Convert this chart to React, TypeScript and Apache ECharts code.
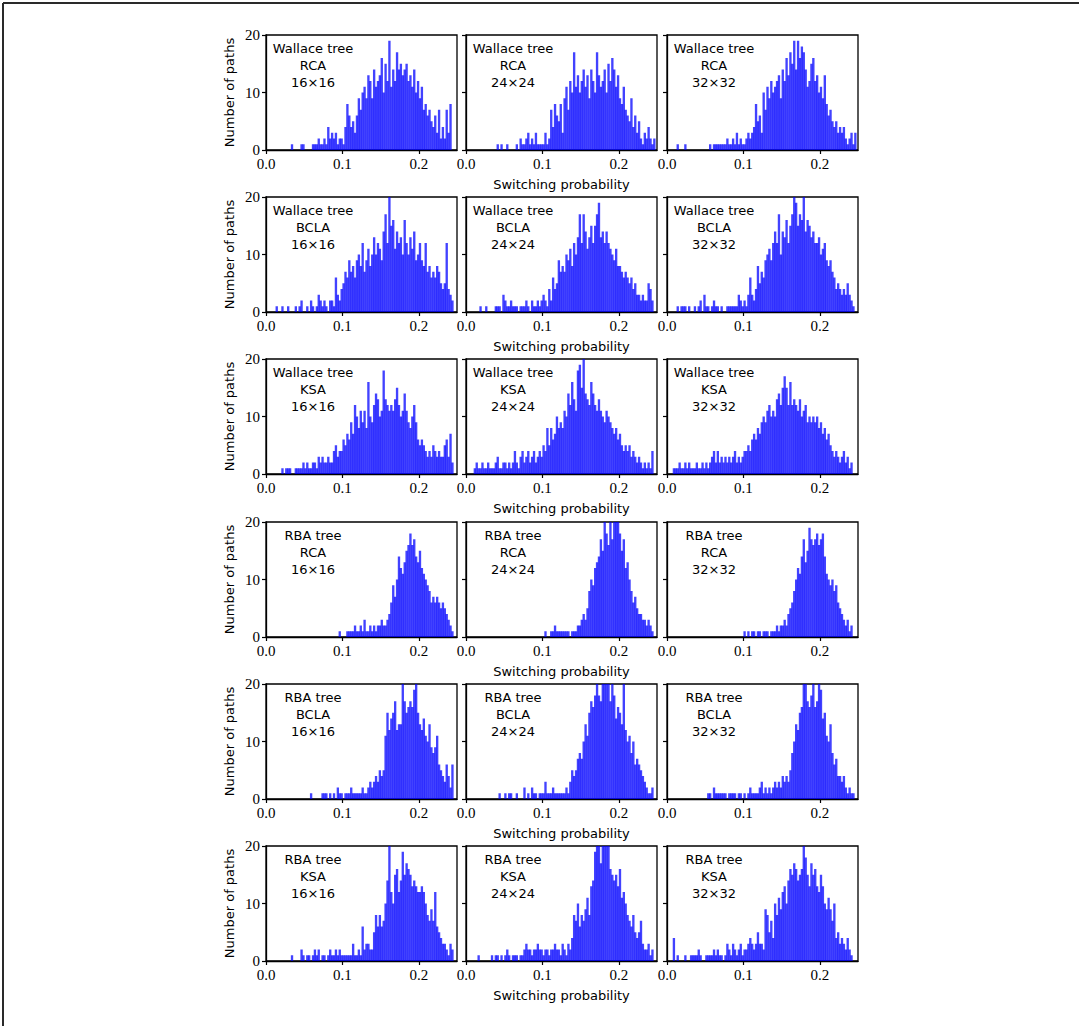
import React, { useEffect, useRef } from "react";
import * as echarts from "echarts";

// ---------- DATA (counts per bin, bin width 0.0025, bins start at 0) ----------
const BIN_WIDTH = 0.0025;
const X_TICKS = [0, 0.1, 0.2];
const Y_TICKS = [0, 10, 20];
const X_MAX = 0.25;
const Y_MAX = 20;

const TREES = ["Wallace tree", "Wallace tree", "Wallace tree", "RBA tree", "RBA tree", "RBA tree"];
const ADDERS = ["RCA", "BCLA", "KSA", "RCA", "BCLA", "KSA"];
const SIZES = ["16×16", "24×24", "32×32"];
const X_TITLE = "Switching probability";
const Y_TITLE = "Number of paths";

const W_RCA_16 = [
  0,0,0,0,0,0,0,0,0,0,
  0,0,0,1,0,0,0,0,1,1,
  0,0,0,0,1,1,1,2,1,1,
  2,1,4,2,3,2,3,1,2,2,
  1,4,8,6,4,5,3,6,9,7,
  10,11,9,13,12,9,14,11,12,13,
  16,10,15,12,19,11,14,12,17,14,
  15,13,14,15,12,13,11,14,10,12,
  9,11,7,8,6,7,5,4,6,3,
  7,2,4,2,7,3,8,0,0,0];
const W_RCA_24 = [
  0,0,0,0,0,0,0,0,0,0,
  0,0,0,0,0,0,1,0,1,0,
  0,1,0,0,0,0,1,0,2,1,
  1,2,3,1,2,1,3,1,1,1,
  1,3,1,2,7,4,8,6,5,8,
  3,9,11,7,12,10,17,11,13,10,
  12,14,11,13,9,14,12,10,17,13,
  11,12,14,10,15,12,16,14,11,13,
  9,8,11,7,6,5,9,4,6,3,
  5,2,1,3,2,4,2,1,2,0];
const W_RCA_32 = [
  0,0,0,0,0,1,0,0,0,1,
  0,0,0,0,0,0,0,0,0,0,
  0,0,1,0,1,1,1,1,1,1,
  1,2,1,1,2,1,3,1,2,1,
  1,2,3,2,3,4,8,5,6,3,
  10,7,11,9,12,10,11,12,13,9,
  14,12,16,13,17,15,19,14,19,16,
  18,17,14,11,12,15,16,12,13,10,
  11,9,13,8,6,7,5,4,5,3,
  4,3,4,2,1,2,3,1,3,0];
const W_BCLA_16 = [
  0,0,0,0,0,1,0,0,1,0,
  0,1,0,0,0,1,0,1,2,0,
  0,1,0,2,1,0,1,3,2,1,
  2,1,0,2,2,1,6,3,2,4,
  5,7,6,9,7,8,6,9,10,8,
  12,7,9,11,8,10,13,10,12,11,
  9,14,17,12,20,15,16,11,14,12,
  13,10,16,12,10,13,11,14,9,10,
  12,9,8,12,7,8,6,7,6,8,
  7,5,4,5,12,4,3,2,0,0];
const W_BCLA_24 = [
  0,0,0,0,0,0,0,1,0,0,
  1,0,0,0,0,1,1,1,0,3,
  2,1,1,2,1,1,1,0,1,1,
  1,2,1,0,2,1,1,2,1,2,
  3,2,1,4,2,6,4,5,9,7,
  8,7,10,9,11,8,12,10,13,17,
  12,17,14,11,13,15,12,15,17,19,
  13,14,12,14,12,11,10,9,11,8,
  8,7,6,7,6,5,6,4,5,3,
  3,2,3,2,2,5,4,2,0,0];
const W_BCLA_32 = [
  0,0,0,0,0,1,0,1,1,1,
  0,1,0,0,1,0,1,2,0,3,
  1,1,0,1,2,1,1,0,1,0,
  0,1,1,1,1,1,1,3,2,1,
  2,1,3,6,3,2,4,8,5,7,
  6,9,10,11,9,12,14,12,17,10,
  14,13,16,12,15,17,20,19,15,17,
  16,20,14,16,15,13,14,12,12,13,
  10,11,12,9,8,9,7,6,4,5,
  4,3,4,3,5,3,2,1,0,0];
const W_KSA_16 = [
  0,0,0,0,0,0,0,0,1,0,
  1,1,1,0,0,1,1,1,1,2,
  1,2,1,1,2,2,1,3,2,3,
  2,2,3,2,2,4,5,3,4,4,
  6,5,7,6,9,7,12,10,8,11,
  9,11,8,16,10,9,12,14,13,10,
  11,18,13,12,11,12,11,13,15,12,
  10,11,14,11,9,8,10,12,9,6,
  5,6,5,4,3,4,3,5,4,3,
  4,3,3,5,6,3,7,2,0,0];
const W_KSA_24 = [
  0,0,0,0,1,2,1,1,2,1,
  1,2,1,1,1,2,3,1,1,2,
  2,1,2,1,2,4,2,1,3,4,
  2,3,4,2,3,4,2,3,4,3,
  5,4,8,5,8,6,7,10,8,9,
  8,11,10,14,12,16,13,11,18,19,
  15,21,14,13,12,16,14,12,11,13,
  11,10,9,11,10,9,8,7,8,6,
  7,5,4,5,4,5,3,4,3,2,
  3,2,1,2,1,2,1,4,0,0];
const W_KSA_32 = [
  0,0,0,1,1,1,2,1,1,2,
  1,2,1,1,1,2,1,1,2,1,
  2,1,2,3,4,2,4,2,3,2,
  3,2,3,2,3,4,2,3,2,3,
  4,4,5,4,6,7,6,8,7,9,
  10,9,11,12,10,11,10,13,14,12,
  15,17,15,12,16,12,13,12,11,13,
  10,11,12,9,10,9,10,9,10,8,
  9,7,8,6,7,5,4,3,4,3,
  2,3,4,2,3,1,2,0,0,0];
const R_RCA_16 = [
  0,0,0,0,0,0,0,0,0,0,
  0,0,0,0,0,0,0,0,0,0,
  0,0,0,0,0,0,0,0,0,0,
  0,0,0,0,0,0,0,0,1,0,
  0,0,1,1,1,1,2,1,1,2,
  1,3,1,1,2,1,2,1,2,2,
  3,2,2,3,4,6,9,7,10,14,
  12,11,13,15,16,18,16,17,14,13,
  15,12,11,10,9,8,6,7,6,7,
  6,5,6,5,4,3,2,1,0,0];
const R_RCA_24 = [
  0,0,0,0,0,0,0,0,0,0,
  0,0,0,0,0,0,0,0,0,0,
  0,0,0,0,0,0,0,0,0,0,
  0,0,0,0,0,0,0,0,0,0,
  0,1,0,0,1,1,2,1,1,1,
  1,1,1,1,0,1,1,1,2,2,
  3,4,3,5,8,10,9,12,13,14,
  17,15,21,18,16,22,17,21,22,20,
  18,15,17,12,13,10,8,6,7,5,
  4,4,3,3,2,3,2,1,0,0];
const R_RCA_32 = [
  0,0,0,0,0,0,0,0,0,0,
  0,0,0,0,0,0,0,0,0,0,
  0,0,0,0,0,0,0,0,0,0,
  0,0,0,0,0,0,0,0,0,0,
  1,0,1,0,1,1,0,1,1,0,
  1,1,1,0,1,1,1,2,1,2,
  2,3,2,4,5,6,8,10,12,11,
  14,17,13,15,19,17,16,17,18,16,
  17,18,14,11,10,9,10,8,9,6,
  5,4,3,2,3,1,2,0,0,0];
const R_BCLA_16 = [
  0,0,0,0,0,0,0,0,0,0,
  0,0,0,0,0,0,0,0,0,0,
  0,0,0,1,0,0,0,0,0,1,
  1,1,0,1,0,1,0,2,1,1,
  0,1,1,1,2,1,1,1,1,1,
  2,1,1,2,3,2,3,4,3,5,
  4,5,11,15,12,14,15,17,12,13,
  13,20,17,15,16,17,16,19,21,15,
  13,12,14,11,10,13,9,8,9,11,
  6,5,4,3,6,4,2,6,0,0];
const R_BCLA_24 = [
  0,0,0,0,0,0,0,0,0,0,
  0,0,0,0,0,0,0,1,0,0,
  1,0,1,1,0,0,1,0,0,0,
  2,0,1,0,2,1,1,0,1,1,
  1,3,1,1,1,2,1,1,1,1,
  1,1,2,1,3,5,4,5,7,8,
  7,10,13,11,15,17,16,18,21,18,
  17,21,22,20,21,17,21,18,14,16,
  15,13,21,12,10,11,8,10,6,7,
  6,5,4,3,2,1,1,2,0,0];
const R_BCLA_32 = [
  0,0,0,0,0,0,0,0,0,0,
  0,0,0,0,0,0,0,0,0,0,
  0,1,1,0,2,1,1,1,1,1,
  1,0,1,1,1,1,0,1,1,0,
  1,0,1,2,1,1,1,1,2,3,
  1,2,1,2,1,2,3,2,3,2,
  4,3,4,3,5,8,10,13,12,15,
  16,21,22,17,16,18,21,16,17,20,
  19,14,15,11,10,13,8,6,7,4,
  4,3,4,2,1,2,1,1,0,0];
const R_KSA_16 = [
  0,0,0,0,0,0,0,0,0,0,
  0,0,0,1,0,0,0,0,2,1,
  0,1,1,0,1,2,1,2,0,1,
  1,0,1,2,1,1,2,1,2,1,
  1,1,1,1,1,3,1,1,2,1,
  6,2,3,3,2,2,5,8,6,8,
  6,7,10,14,20,12,10,15,16,12,
  14,19,15,17,16,15,13,14,13,12,
  12,13,12,10,8,7,9,7,12,6,
  5,4,3,3,2,1,3,2,0,0];
const R_KSA_24 = [
  0,0,0,0,0,0,1,0,0,0,
  0,0,0,1,0,1,1,0,1,0,
  1,2,1,0,1,1,1,0,1,1,
  2,3,2,2,1,2,2,3,2,2,
  1,2,2,1,2,2,3,2,2,1,
  3,2,1,3,2,4,8,7,10,6,
  8,7,9,11,8,13,14,19,21,22,
  17,21,22,20,21,16,15,14,15,13,
  16,11,12,10,8,7,6,8,5,4,
  5,7,3,2,2,3,1,2,0,0];
const R_KSA_32 = [
  0,0,0,4,0,1,0,0,0,1,
  0,0,1,1,1,1,2,1,0,0,
  1,1,1,1,2,1,2,1,1,0,
  1,3,2,1,3,2,1,2,3,1,
  2,2,3,4,3,2,3,5,3,3,
  2,9,8,5,7,4,10,8,11,9,
  12,13,10,14,16,15,17,16,14,15,
  16,20,18,15,13,17,15,16,13,12,
  15,13,10,9,11,9,7,10,4,5,
  3,4,3,2,4,2,1,0,0,0];

const COUNTS = [
  [W_RCA_16, W_RCA_24, W_RCA_32],
  [W_BCLA_16, W_BCLA_24, W_BCLA_32],
  [W_KSA_16, W_KSA_24, W_KSA_32],
  [R_RCA_16, R_RCA_24, R_RCA_32],
  [R_BCLA_16, R_BCLA_24, R_BCLA_32],
  [R_KSA_16, R_KSA_24, R_KSA_32],
];

// ---------- LAYOUT ----------
const WIDTH = 1079;
const HEIGHT = 1026;
const COL_X = [266, 466, 667];
const ROW_Y = [35, 197, 359, 522, 684, 846];
const PW = 191;
const PH = 115;

const SANS = "DejaVu Sans";
const SERIF = "Liberation Serif";
const BAR_COLOR = "rgba(0,0,255,0.74)";
const BAR_OVERLAP = 0.45;

function buildOption() {
  const grid: any[] = [];
  const xAxis: any[] = [];
  const yAxis: any[] = [];
  const series: any[] = [];
  const graphic: any[] = [];

  graphic.push({ type: "line", shape: { x1: 3, y1: 3, x2: WIDTH, y2: 3 }, style: { stroke: "#2a2a2a", lineWidth: 2 }, silent: true });
  graphic.push({ type: "line", shape: { x1: 3, y1: 3, x2: 3, y2: HEIGHT }, style: { stroke: "#2a2a2a", lineWidth: 2 }, silent: true });

  let k = 0;
  for (let r = 0; r < COUNTS.length; r++) {
    for (let c = 0; c < 3; c++) {
      const left = COL_X[c];
      const top = ROW_Y[r];
      grid.push({ left, top, width: PW, height: PH, show: true, borderColor: "#000", borderWidth: 1.3, backgroundColor: "transparent", containLabel: false });
      xAxis.push({
        gridIndex: k, type: "value", min: 0, max: X_MAX,
        axisLine: { show: true, onZero: false, lineStyle: { color: "#000", width: 1.3 } },
        axisTick: { show: true, inside: false, length: 4, customValues: X_TICKS, lineStyle: { color: "#000", width: 1.2 } },
        axisLabel: { show: true, customValues: X_TICKS, formatter: (v: number) => v.toFixed(1), fontFamily: SERIF, fontSize: 15, color: "#000", margin: 6 },
        splitLine: { show: false },
      });
      yAxis.push({
        gridIndex: k, type: "value", min: 0, max: Y_MAX,
        axisLine: { show: true, onZero: false, lineStyle: { color: "#000", width: 1.3 } },
        axisTick: { show: true, inside: false, length: 4, customValues: Y_TICKS, lineStyle: { color: "#000", width: 1.2 } },
        axisLabel: { show: c === 0, customValues: Y_TICKS, formatter: (v: number) => String(v), fontFamily: SERIF, fontSize: 15, color: "#000", margin: 6 },
        splitLine: { show: false },
      });
      const counts = COUNTS[r][c];
      const data: number[][] = [];
      counts.forEach((n, i) => { if (n > 0) data.push([i * BIN_WIDTH, n]); });
      series.push({
        type: "custom",
        xAxisIndex: k,
        yAxisIndex: k,
        clip: true,
        data,
        renderItem: (params: any, api: any) => {
          const x0 = api.value(0);
          const y = api.value(1);
          const p0 = api.coord([x0, 0]);
          const p1 = api.coord([x0 + BIN_WIDTH, y]);
          return {
            type: "rect",
            shape: { x: p0[0], y: p1[1], width: p1[0] - p0[0] + BAR_OVERLAP, height: p0[1] - p1[1] },
            style: { fill: BAR_COLOR },
          };
        },
      });
      const lines = [TREES[r], ADDERS[r], SIZES[c]];
      lines.forEach((t, i) => {
        graphic.push({
          type: "text", x: left + 47, y: top + 13 + 17 * i, silent: true, z: 100,
          style: { text: t, fill: "#000", font: `13px "${SANS}"`, align: "center", verticalAlign: "middle" },
        });
      });
      k++;
    }
    graphic.push({
      type: "text", x: 229, y: ROW_Y[r] + PH / 2, rotation: Math.PI / 2, silent: true,
      style: { text: Y_TITLE, fill: "#000", font: `13px "${SANS}"`, align: "center", verticalAlign: "middle" },
    });
    graphic.push({
      type: "text", x: COL_X[1] + PW / 2, y: ROW_Y[r] + PH + 34, silent: true,
      style: { text: X_TITLE, fill: "#000", font: `13px "${SANS}"`, align: "center", verticalAlign: "middle" },
    });
  }

  return { animation: false, backgroundColor: "#fff", grid, xAxis, yAxis, series, graphic };
}

export default function App() {
  const ref = useRef<HTMLDivElement>(null);
  useEffect(() => {
    if (!ref.current) return;
    const chart = echarts.init(ref.current, undefined, { renderer: "svg" });
    chart.setOption(buildOption() as any);
    return () => chart.dispose();
  }, []);
  return <div ref={ref} style={{ position: "fixed", left: 0, top: 0, width: WIDTH, height: HEIGHT }} />;
}
